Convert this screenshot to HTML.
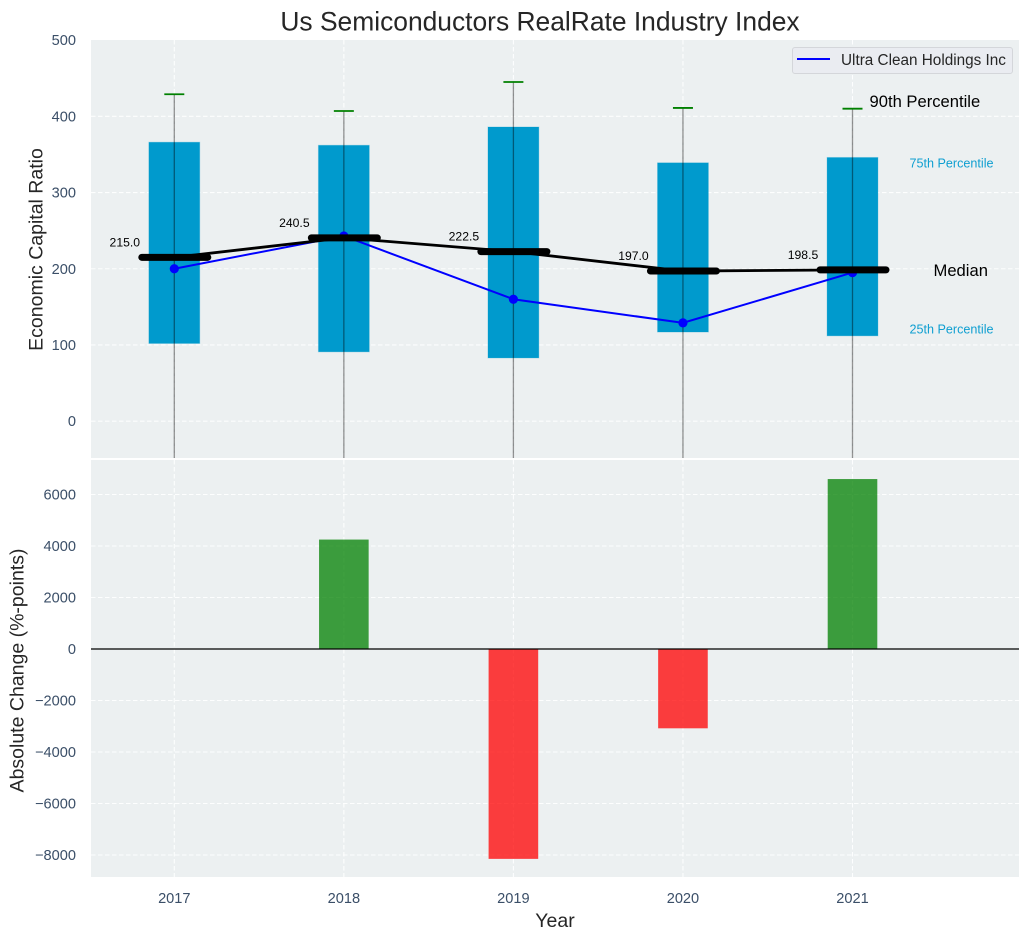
<!DOCTYPE html>
<html lang="en">
<head>
<meta charset="utf-8">
<title>Us Semiconductors RealRate Industry Index</title>
<style>
html,body{margin:0;padding:0;background:#fff;}
body{width:1029px;height:940px;overflow:hidden;}
svg{display:block;font-family:"Liberation Sans",Arial,sans-serif;}
</style>
</head>
<body>
<svg id="chart" width="1029" height="940" viewBox="0 0 1029 940" xmlns="http://www.w3.org/2000/svg">
<defs>
<clipPath id="clip-top"><rect x="91" y="40" width="928" height="418"></rect></clipPath>
<clipPath id="clip-bottom"><rect x="91" y="460" width="928" height="417"></rect></clipPath>
</defs>
</svg>
<script>
const years = [2017, 2018, 2019, 2020, 2021];
const p90 = [429, 407, 445, 411, 410];
const p75 = [366, 362, 386, 339, 346];
const medians = [215.0, 240.5, 222.5, 197.0, 198.5];
const p25 = [102, 91, 83, 117, 112];
const p10 = [-120, -120, -120, -120, -120];
const company = [200, 243, 160, 129, 195];
const changes = [null, 4250, -8150, -3080, 6600];
const topTicks = [0, 100, 200, 300, 400, 500];
const bottomTicks = [-8000, -6000, -4000, -2000, 0, 2000, 4000, 6000];

const svg = document.getElementById('chart');
const NS = 'http://www.w3.org/2000/svg';
const x = v => 174.3 + (v - 2017) * 169.55;
const yTop = v => 421.2 - v * 0.7622;
const yBot = v => 649 - v * 0.02575;
const TICK = '#3b4f68';
const INK = '#262626';

function el(tag, attrs, text, parent) {
  const n = document.createElementNS(NS, tag);
  for (const k in attrs) n.setAttribute(k, attrs[k]);
  if (text !== undefined && text !== null) n.textContent = text;
  (parent || svg).appendChild(n);
  return n;
}
function group(name) {
  const g = document.createElementNS(NS, 'g');
  
  
  svg.appendChild(g);
  return g;
}
function named(n, name) {
  
  
  return n;
}

/* title */
named(el('text', {x: 540, y: 30.5, 'text-anchor': 'middle', 'font-size': 26.4, fill: INK}, 'Us Semiconductors RealRate Industry Index'), 'chart-title');

/* panels */
named(el('rect', {x: 91, y: 40, width: 928, height: 418, fill: '#ecf0f1'}), 'top-plot-area');
named(el('rect', {x: 91, y: 460, width: 928, height: 417, fill: '#ecf0f1'}), 'bottom-plot-area');

/* grid */
const gridG = group('grid-lines');
const gridStyle = {stroke: '#ffffff', 'stroke-width': 1.1, 'stroke-dasharray': '4.5 2.5', 'stroke-opacity': 0.9};
topTicks.forEach(t => {
  if (t === 500) return;
  el('line', Object.assign({x1: 91, x2: 1019, y1: yTop(t), y2: yTop(t)}, gridStyle), null, gridG);
});
bottomTicks.forEach(t => {
  el('line', Object.assign({x1: 91, x2: 1019, y1: yBot(t), y2: yBot(t)}, gridStyle), null, gridG);
});
years.forEach(yr => {
  el('line', Object.assign({x1: x(yr), x2: x(yr), y1: 40, y2: 458}, gridStyle), null, gridG);
  el('line', Object.assign({x1: x(yr), x2: x(yr), y1: 460, y2: 877}, gridStyle), null, gridG);
});

/* tick labels */
const tickG = group('tick-labels');
topTicks.forEach(t => {
  el('text', {x: 76, y: yTop(t) + 5, 'text-anchor': 'end', 'font-size': 14.6, fill: TICK}, String(t), tickG);
});
bottomTicks.forEach(t => {
  el('text', {x: 76, y: yBot(t) + 5, 'text-anchor': 'end', 'font-size': 14.6, fill: TICK}, String(t).replace('-', '\u2212'), tickG);
});
years.forEach(yr => {
  el('text', {x: x(yr), y: 903, 'text-anchor': 'middle', 'font-size': 14.6, fill: TICK}, String(yr), tickG);
});

/* axis titles */
named(el('text', {x: 0, y: 0, transform: 'translate(42.5 249.5) rotate(-90)', 'text-anchor': 'middle', 'font-size': 19.5, fill: INK}, 'Economic Capital Ratio'), 'top-y-axis-title');
named(el('text', {x: 0, y: 0, transform: 'translate(23.5 670.5) rotate(-90)', 'text-anchor': 'middle', 'font-size': 19.5, fill: INK}, 'Absolute Change (%-points)'), 'bottom-y-axis-title');
named(el('text', {x: 555, y: 927, 'text-anchor': 'middle', 'font-size': 19.5, fill: INK}, 'Year'), 'x-axis-title');

/* top panel */
const topG = group('percentile-panel');
topG.setAttribute('clip-path', 'url(#clip-top)');
const BOX_W = 0.3 * 169.55;
years.forEach((yr, i) => {
  const bar = el('rect', {
    x: x(yr) - BOX_W / 2, y: yTop(p75[i]), width: BOX_W, height: yTop(p25[i]) - yTop(p75[i]),
    fill: '#009acd', stroke: '#009acd', 'stroke-opacity': 0.25, 'stroke-width': 1
  }, null, topG);
  
  
});
years.forEach((yr, i) => {
  const whisker = el('line', {
    x1: x(yr), x2: x(yr), y1: yTop(p90[i]), y2: yTop(p10[i]),
    stroke: '#000000', 'stroke-opacity': 0.42, 'stroke-width': 1.3
  }, null, topG);
  
  
  const cap = el('line', {
    x1: x(yr) - 10, x2: x(yr) + 10, y1: yTop(p90[i]), y2: yTop(p90[i]),
    stroke: '#008000', 'stroke-width': 1.8
  }, null, topG);
  
  
});

/* company series */
const companyLine = el('polyline', {
  points: years.map((yr, i) => x(yr) + ',' + yTop(company[i])).join(' '),
  fill: 'none', stroke: '#0000ff', 'stroke-width': 2
}, null, topG);


years.forEach((yr, i) => {
  const dot = el('circle', {cx: x(yr), cy: yTop(company[i]), r: 4.6, fill: '#0000ff'}, null, topG);
  
  
});

/* median series */
const medianLine = el('polyline', {
  points: years.map((yr, i) => x(yr) + ',' + yTop(medians[i])).join(' '),
  fill: 'none', stroke: '#000000', 'stroke-width': 2.8
}, null, topG);


years.forEach((yr, i) => {
  const tick = el('line', {
    x1: x(yr) - 32.5, x2: x(yr) + 33.5, y1: yTop(medians[i]), y2: yTop(medians[i]),
    stroke: '#000000', 'stroke-width': 7, 'stroke-linecap': 'round'
  }, null, topG);
  
  
  const lab = el('text', {
    x: x(yr) - 49.5, y: yTop(medians[i]) - 11, 'text-anchor': 'middle', 'font-size': 12.2, fill: '#000000'
  }, medians[i].toFixed(1), svg);
  
  
});

/* percentile annotations, anchored to the last year */
const last = years.length - 1;
named(el('text', {x: x(years[last]) + 17, y: yTop(p90[last]) - 1.5, 'font-size': 16.6, fill: '#000000'}, '90th Percentile'), 'p90-annotation');
named(el('text', {x: x(years[last]) + 57, y: yTop(p75[last]) + 10, 'font-size': 12.6, fill: '#0f9fd1'}, '75th Percentile'), 'p75-annotation');
named(el('text', {x: x(years[last]) + 81, y: yTop(medians[last]) + 6, 'font-size': 16.6, fill: '#000000'}, 'Median'), 'median-annotation');
named(el('text', {x: x(years[last]) + 57, y: yTop(p25[last]) - 2.3, 'font-size': 12.6, fill: '#0f9fd1'}, '25th Percentile'), 'p25-annotation');

/* legend */
const legendG = group('legend');
el('rect', {x: 792.5, y: 47.5, width: 220, height: 26, rx: 2.5, fill: '#eaecf1', stroke: '#d4d6da', 'stroke-width': 1}, null, legendG);
el('line', {x1: 797, x2: 830, y1: 59, y2: 59, stroke: '#0000ff', 'stroke-width': 2}, null, legendG);
el('text', {x: 841, y: 65, 'font-size': 15.3, fill: INK}, 'Ultra Clean Holdings Inc', legendG);

/* bottom panel */
const botG = group('absolute-change-panel');
botG.setAttribute('clip-path', 'url(#clip-bottom)');
years.forEach((yr, i) => {
  const v = changes[i];
  if (v === null) return;
  const top = v >= 0 ? yBot(v) : yBot(0);
  const h = Math.abs(yBot(v) - yBot(0));
  const bar = el('rect', {
    x: x(yr) - 24.8, y: top, width: 49.6, height: h,
    fill: v >= 0 ? '#008000' : '#ff0000', 'fill-opacity': 0.75
  }, null, botG);
  
  
});
const zeroLine = el('line', {x1: 91, x2: 1019, y1: yBot(0), y2: yBot(0), stroke: '#000000', 'stroke-width': 1.3}, null, botG);


</script>
</body>
</html>
